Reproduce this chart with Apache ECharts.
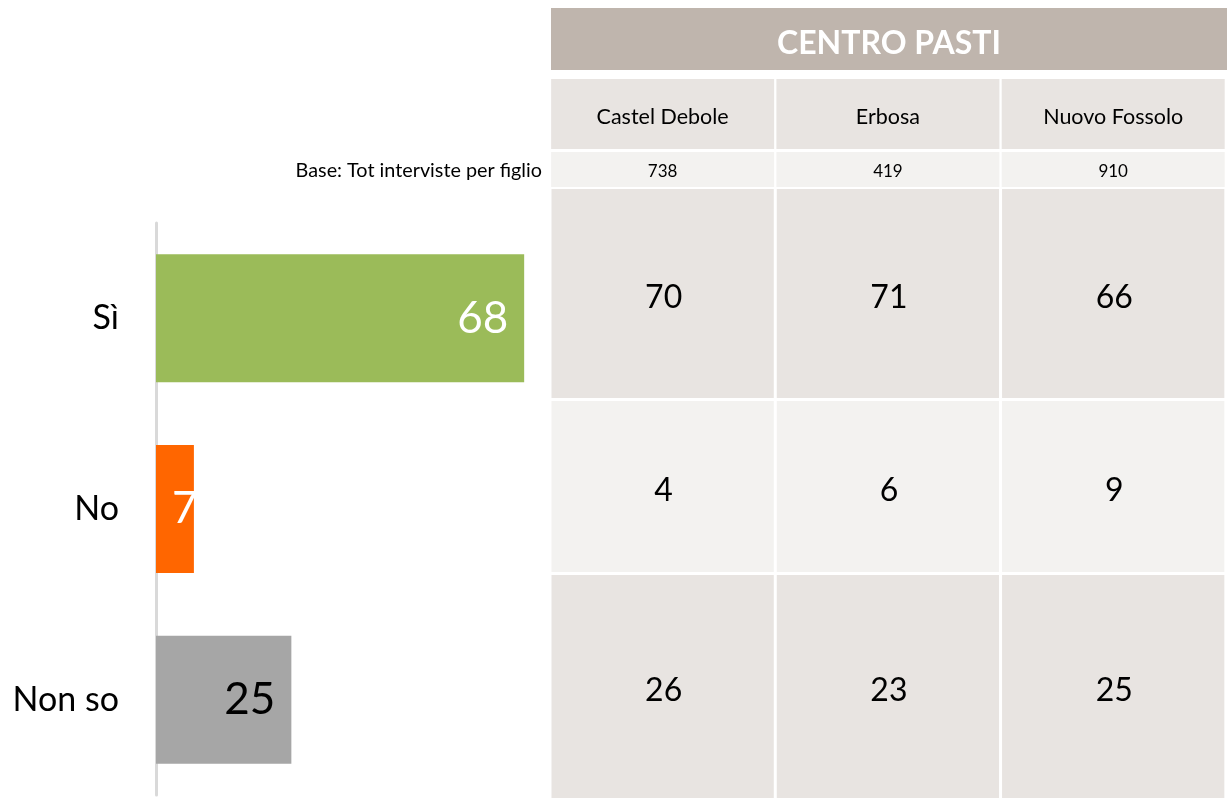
<!DOCTYPE html>
<html>
<head>
<meta charset="utf-8">
<script src="https://cdn.jsdelivr.net/npm/echarts@6/dist/echarts.min.js"></script>
<style>
  html, body { margin: 0; padding: 0; background: #fff; }
  #chart { width: 1227px; height: 803px; }
</style>
</head>
<body>
<div id="chart"></div>
<script>
const CATEGORIES = ['Sì', 'No', 'Non so'];
const TOTAL_VALUES = [68, 7, 25];
const BAR_COLORS = ['#9bbb59', '#ff6600', '#a6a6a6'];
const LABEL_COLORS = ['#ffffff', '#ffffff', '#000000'];

const SITES = ['Castel Debole', 'Erbosa', 'Nuovo Fossolo'];
const BASE_COUNTS = [738, 419, 910];
// one row per answer (Sì, No, Non so), one column per site
const SITE_VALUES = [
  [70, 71, 66],
  [4, 6, 9],
  [26, 23, 25]
];

// table layout (grid units = px from the top of the table body)
const ROW_SPANS = [[0, 209], [212, 383], [386, 609]];
const ROW_FILLS = ['#e8e4e1', '#f3f2f0', '#e8e4e1'];
const FONT = 'Lato, "Open Sans", sans-serif';

const chart = echarts.init(document.getElementById('chart'), null, { renderer: 'canvas' });

const cellData = [];
SITE_VALUES.forEach((row, r) => {
  row.forEach((v, c) => cellData.push([c, r, v]));
});

const option = {
  backgroundColor: '#ffffff',
  animation: false,
  textStyle: { fontFamily: FONT },
  graphic: [
    {
      type: 'group',
      children: [
        { type: 'rect', shape: { x: 551, y: 8, width: 676, height: 62 }, style: { fill: '#bfb5ad' } },
        {
          type: 'text', x: 889, y: 44,
          style: { text: 'CENTRO PASTI', fill: '#fff', font: 'bold 32px ' + FONT, align: 'center', verticalAlign: 'middle' }
        }
      ]
    },
    {
      type: 'text', x: 542, y: 171,
      style: { text: 'Base: Tot interviste per figlio', fill: '#000', font: '19.8px ' + FONT, align: 'right', verticalAlign: 'middle' }
    }
  ],
  grid: [
    { left: 156, top: 223, width: 379, height: 572 },
    { left: 550, top: 189, width: 680, height: 609 }
  ],
  xAxis: [
    { type: 'value', gridIndex: 0, min: 0, max: 70, show: false },
    {
      type: 'category', gridIndex: 1, position: 'top', data: SITES,
      axisLine: { show: false }, axisTick: { show: false }, splitLine: { show: false },
      axisLabel: {
        interval: 0, margin: 40, color: '#000', fontSize: 21.5, fontFamily: FONT,
        backgroundColor: '#e8e4e1', width: 223, height: 64, lineHeight: 64,
        padding: [6, 0, 0, 0], align: 'center'
      }
    },
    {
      type: 'category', gridIndex: 1, position: 'top', data: SITES,
      axisLine: { show: false }, axisTick: { show: false }, splitLine: { show: false },
      axisLabel: {
        interval: 0, margin: 2, color: '#000', fontSize: 17, fontFamily: FONT,
        backgroundColor: '#f3f2f0', width: 223, height: 31, lineHeight: 31,
        padding: [4, 0, 0, 0], align: 'center',
        formatter: (v, i) => String(BASE_COUNTS[i])
      }
    }
  ],
  yAxis: [
    {
      type: 'category', gridIndex: 0, data: CATEGORIES, inverse: true,
      axisLine: { show: true, lineStyle: { color: '#d9d9d9', width: 3 } },
      axisTick: { show: false },
      axisLabel: { color: '#000', fontSize: 34, margin: 37, fontFamily: FONT }
    },
    { type: 'value', gridIndex: 1, min: 0, max: 609, inverse: true, show: false }
  ],
  series: [
    {
      type: 'bar',
      xAxisIndex: 0, yAxisIndex: 0,
      barWidth: 128,
      data: TOTAL_VALUES.map((v, i) => ({
        value: v,
        itemStyle: { color: BAR_COLORS[i] },
        label: {
          position: v < 10 ? 'insideLeft' : 'insideRight',
          color: LABEL_COLORS[i]
        }
      })),
      label: { show: true, fontSize: 44, distance: 16, fontFamily: FONT }
    },
    {
      type: 'custom',
      xAxisIndex: 1, yAxisIndex: 1,
      data: cellData,
      renderItem: function (params, api) {
        const c = api.value(0);
        const r = api.value(1);
        const span = ROW_SPANS[r];
        const p0 = api.coord([c, span[0]]);
        const p1 = api.coord([c, span[1]]);
        const bw = api.size([1, 0])[0];
        const x = p0[0] - bw / 2 + 1.5;
        return {
          type: 'group',
          children: [
            { type: 'rect', shape: { x: x, y: p0[1], width: bw - 3, height: p1[1] - p0[1] }, style: { fill: ROW_FILLS[r] } },
            {
              type: 'text', x: p0[0] + 1, y: (p0[1] + p1[1]) / 2 + 4,
              style: { text: String(api.value(2)), fill: '#000', font: '32px ' + FONT, align: 'center', verticalAlign: 'middle' }
            }
          ]
        };
      }
    }
  ]
};

chart.setOption(option);
</script>
</body>
</html>
